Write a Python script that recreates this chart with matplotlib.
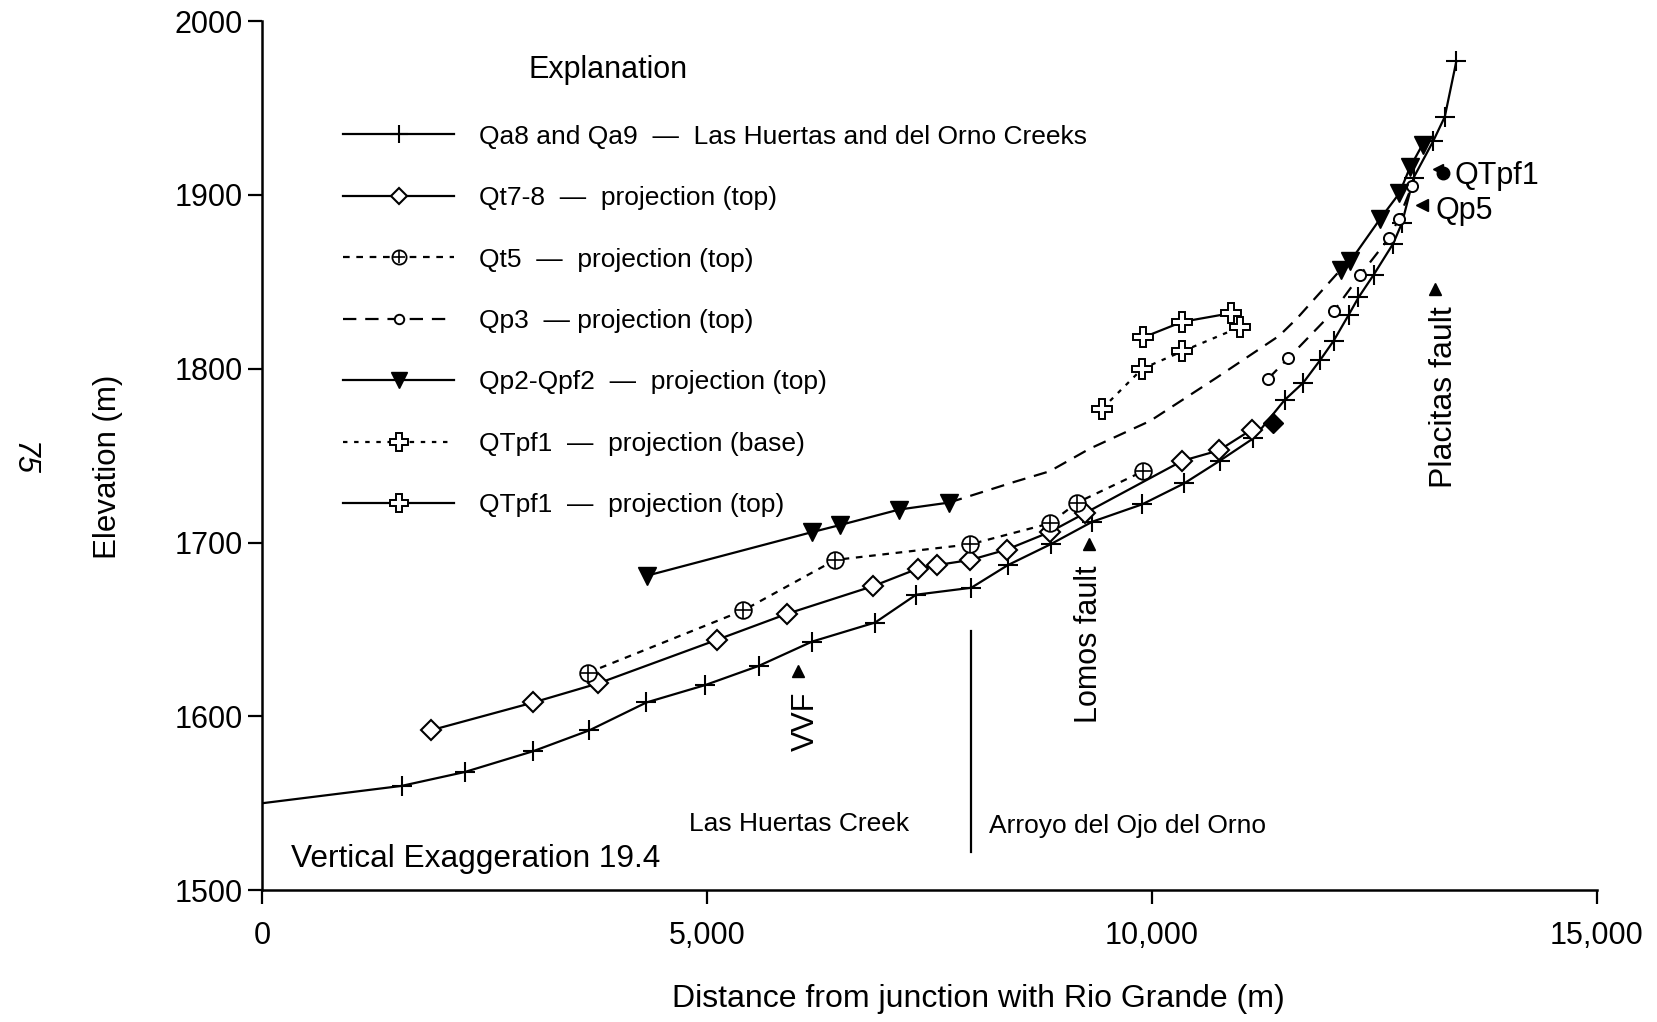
import matplotlib
matplotlib.use("Agg")
import matplotlib.pyplot as plt
from matplotlib.ticker import FuncFormatter

plt.rcParams['font.family'] = ['Liberation Sans', 'DejaVu Sans']

# Qa8 and Qa9 - Las Huertas and del Orno Creeks (first point has no marker)
qa_x = [0, 1570, 2280, 3050, 3680, 4320, 4980, 5580, 6180, 6890, 7350, 7970,
        8380, 8860, 9330, 9890, 10360, 10760, 11140, 11490, 11700, 11890,
        12040, 12210, 12320, 12490, 12710, 12810, 12940, 13160, 13290, 13420]
qa_y = [1550, 1560, 1568, 1580, 1592, 1608, 1618, 1629, 1643, 1654, 1670, 1674,
        1687, 1699, 1712, 1722, 1734, 1747, 1760, 1782, 1792, 1805,
        1816, 1831, 1841, 1854, 1872, 1884, 1910, 1931, 1945, 1977]

# Qt7-8 projection (top)
qt78_x = [1900, 3050, 3780, 5110, 5900, 6870, 7370, 7580, 7960, 8370, 8850,
          9250, 10340, 10750, 11120]
qt78_y = [1592, 1608, 1619, 1644, 1659, 1675, 1685, 1687, 1690, 1696, 1706,
          1717, 1747, 1753, 1765]

# Qt5 projection (top)
qt5_x = [3660, 5410, 6440, 7960, 8850, 9160, 9900]
qt5_y = [1625, 1661, 1690, 1699, 1711, 1723, 1741]

# Qp3 projection (top)
qp3_x = [11300, 11530, 12040, 12340, 12660, 12770, 12920]
qp3_y = [1794, 1806, 1833, 1854, 1875, 1886, 1905]

# Qp2-Qpf2 projection (top): lower solid part, dashed link, upper solid part
qp2_low_x = [4330, 6180, 6490, 7160, 7720]
qp2_low_y = [1681, 1706, 1710, 1719, 1723]
qp2_link_x = [7720, 8460, 8850, 9300, 9980, 10730, 11430, 11630, 12120]
qp2_link_y = [1723, 1735, 1741, 1754, 1770, 1795, 1819, 1829, 1857]
qp2_up_x = [12120, 12230, 12560, 12780, 12900, 13040]
qp2_up_y = [1857, 1862, 1886, 1901, 1916, 1929]

# QTpf1 projection (base) and (top)
qtb_x = [9440, 9890, 10340, 10990]
qtb_y = [1777, 1800, 1810, 1824]
qtt_x = [9900, 10340, 10890]
qtt_y = [1818, 1827, 1832]

lw = 1.6
fig = plt.figure(figsize=(16.58, 10.22), dpi=100)
ax = fig.add_axes([0.158, 0.129, 0.8052, 0.8503])

h_qa, = ax.plot(qa_x, qa_y, color='black', lw=lw, marker='+', ms=15, mew=1.5,
                markevery=list(range(1, len(qa_x))))
h_qt78, = ax.plot(qt78_x, qt78_y, color='black', lw=lw, marker='D', ms=10,
                  mfc='white', mew=1.5)
h_qt5a, = ax.plot(qt5_x, qt5_y, color='black', lw=lw, ls=(0, (3, 3)),
                  marker='o', ms=12, mfc='white', mew=1.3)
h_qt5b, = ax.plot(qt5_x, qt5_y, color='black', ls='none', marker='+', ms=11, mew=1.2)
ax.plot(qp2_link_x, qp2_link_y, color='black', lw=lw, ls=(0, (6, 4)))
h_qp3, = ax.plot(qp3_x, qp3_y, color='black', lw=lw, ls=(0, (6, 4)),
                 marker='o', ms=8, mfc='white', mew=1.4)
h_qp2, = ax.plot(qp2_low_x, qp2_low_y, color='black', lw=lw, marker='v', ms=13)
ax.plot(qp2_up_x, qp2_up_y, color='black', lw=lw, marker='v', ms=13)
h_qtb, = ax.plot(qtb_x, qtb_y, color='black', lw=lw, ls=(0, (2, 3)),
                 marker='P', ms=15, mfc='white', mew=1.4)
h_qtt, = ax.plot(qtt_x, qtt_y, color='black', lw=lw,
                 marker='P', ms=15, mfc='white', mew=1.4)
ax.plot([11360], [1769], marker='D', ms=10, color='black', ls='none')

# fault markers and labels
ax.plot([6026, 9295, 13182], [1626, 1699, 1846], marker='^', ms=8,
        color='black', ls='none')
ax.text(6110, 1614, 'VVF', rotation=90, ha='center', va='top', fontsize=22)
ax.text(9295, 1687, 'Lomos fault', rotation=90, ha='center', va='top', fontsize=22)
ax.text(13277, 1836, 'Placitas fault', rotation=90, ha='center', va='top', fontsize=23)

ax.plot([13213], [1915], marker='<', ms=7, color='black', ls='none')
ax.plot([13270], [1912.5], marker='o', ms=9, color='black', ls='none')
ax.text(13400, 1911, 'QTpf1', ha='left', va='center', fontsize=22)
ax.plot([13030], [1894], marker='<', ms=8, color='black', ls='none')
ax.text(13190, 1891, 'Qp5', ha='left', va='center', fontsize=22)

ax.plot([7964, 7964], [1649, 1522], color='black', lw=lw)
ax.text(6038, 1538, 'Las Huertas Creek', ha='center', va='center', fontsize=19)
ax.text(8166, 1537, 'Arroyo del Ojo del Orno', ha='left', va='center', fontsize=19)
ax.text(321, 1518, 'Vertical Exaggeration 19.4', ha='left', va='center', fontsize=22.8)
ax.text(2995, 1972, 'Explanation', ha='left', va='center', fontsize=22)

labels = ['Qa8 and Qa9  —  Las Huertas and del Orno Creeks',
          'Qt7-8  —  projection (top)',
          'Qt5  —  projection (top)',
          'Qp3  — projection (top)',
          'Qp2-Qpf2  —  projection (top)',
          'QTpf1  —  projection (base)',
          'QTpf1  —  projection (top)']
ax.legend([h_qa, h_qt78, (h_qt5a, h_qt5b), h_qp3, h_qp2, h_qtb, h_qtt], labels,
          loc='upper left', bbox_to_anchor=(0.061, 0.881), frameon=False,
          fontsize=19, handlelength=4.2, handletextpad=0.95, labelspacing=1.42,
          borderpad=0, borderaxespad=0, numpoints=1, markerscale=0.85)

ax.set_xlim(0, 15000)
ax.set_ylim(1500, 2000)
ax.set_xticks([0, 5000, 10000, 15000])
ax.set_yticks([1500, 1600, 1700, 1800, 1900, 2000])
ax.xaxis.set_major_formatter(FuncFormatter(lambda v, p: f'{int(v):,}'))
ax.tick_params(axis='both', labelsize=22, length=10, width=1.6, direction='out')
ax.tick_params(axis='x', pad=12)
ax.tick_params(axis='y', pad=4)
for s in ['top', 'right']:
    ax.spines[s].set_visible(False)
for s in ['left', 'bottom']:
    ax.spines[s].set_linewidth(1.8)
ax.set_xlabel('Distance from junction with Rio Grande (m)', fontsize=23)
ax.set_ylabel('Elevation (m)', fontsize=22.5)
ax.xaxis.set_label_coords(0.537, -0.108)
ax.yaxis.set_label_coords(-0.104, 0.487)

fig.text(23 / 1658, 1 - 459 / 1022, '75', rotation=-90, ha='center', va='center',
         fontsize=22, style='italic')

fig.savefig('out.png', dpi=100)
